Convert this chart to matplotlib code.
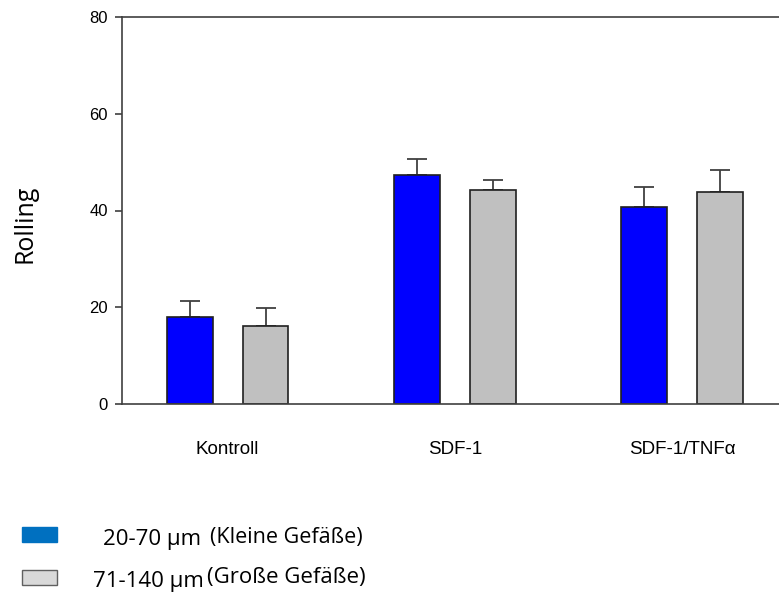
import numpy as np
import matplotlib
matplotlib.use("Agg")
import matplotlib.pyplot as plt
from matplotlib.patches import Rectangle

plt.rcParams['font.family'] = ['Liberation Sans', 'DejaVu Sans']

# data
groups = ["Kontroll", "SDF-1", "SDF-1/TNFα"]
small_vals = [18.0, 47.3, 40.7]
small_err = [3.3, 3.3, 4.1]
large_vals = [16.1, 44.2, 43.8]
large_err = [3.7, 2.1, 4.5]
legend_sizes = ["20-70 µm", "71-140 µm"]
legend_names = ["(Kleine Gefäße)", "(Große Gefäße)"]

W, H = 779, 592
fig = plt.figure(figsize=(W / 100, H / 100), dpi=100)
ax = fig.add_axes([122 / W, 1 - 404 / H, 1 - 122 / W, (404 - 17) / H])

x = np.arange(len(groups))
off = 38 / 228
bw = 46 / 228
edge = "#202020"
ax.bar(x - off, small_vals, bw, color="#0000FF", edgecolor=edge, linewidth=1.2, zorder=2)
ax.bar(x + off, large_vals, bw, color="#C0C0C0", edgecolor=edge, linewidth=1.2, zorder=2)
ax.errorbar(x - off, small_vals, yerr=[np.zeros(3), small_err], fmt="none",
            ecolor="#404040", elinewidth=1.3, capsize=7, capthick=1.3, zorder=1)
ax.errorbar(x + off, large_vals, yerr=[np.zeros(3), large_err], fmt="none",
            ecolor="#404040", elinewidth=1.3, capsize=7, capthick=1.3, zorder=1)

ax.set_xlim((122 - 228) / 228, (779 - 228) / 228 + 0.01)
ax.set_ylim(0, 80)
ax.set_yticks([0, 20, 40, 60, 80])
ax.set_xticks(x)
ax.set_xticklabels(groups, fontsize=13.5)
ax.tick_params(axis="x", length=0, pad=27)
ax.tick_params(axis="y", direction="out", length=5, width=1.2, color="#404040", labelsize=12, pad=5)
for s in ["left", "top", "bottom"]:
    ax.spines[s].set_color("#404040")
    ax.spines[s].set_linewidth(1.2)
ax.spines["right"].set_visible(False)

fig.text(25 / W, 1 - 224 / H, "Rolling", rotation=90, fontsize=18, family=["Open Sans", "DejaVu Sans"],
         ha="center", va="center")

# manual legend
fig.patches.append(Rectangle((22 / W, 1 - 542 / H), 35 / W, 15 / H, transform=fig.transFigure,
                             facecolor="#0070C0", edgecolor="#0070C0", linewidth=1))
fig.patches.append(Rectangle((22 / W, 1 - 585 / H), 35 / W, 15 / H, transform=fig.transFigure,
                             facecolor="#D9D9D9", edgecolor="#606060", linewidth=1))
fig.text(103 / W, 1 - 540 / H, legend_sizes[0], fontsize=16, family=["Open Sans", "DejaVu Sans"], va="center")
fig.text(210 / W, 1 - 538 / H, legend_names[0], fontsize=15.5, family=["Open Sans", "DejaVu Sans"], va="center")
fig.text(93 / W, 1 - 581 / H, legend_sizes[1], fontsize=16, family=["Open Sans", "DejaVu Sans"], va="center")
fig.text(207 / W, 1 - 578 / H, legend_names[1], fontsize=16, family=["Open Sans", "DejaVu Sans"], va="center")

fig.savefig("out.png", dpi=100)
